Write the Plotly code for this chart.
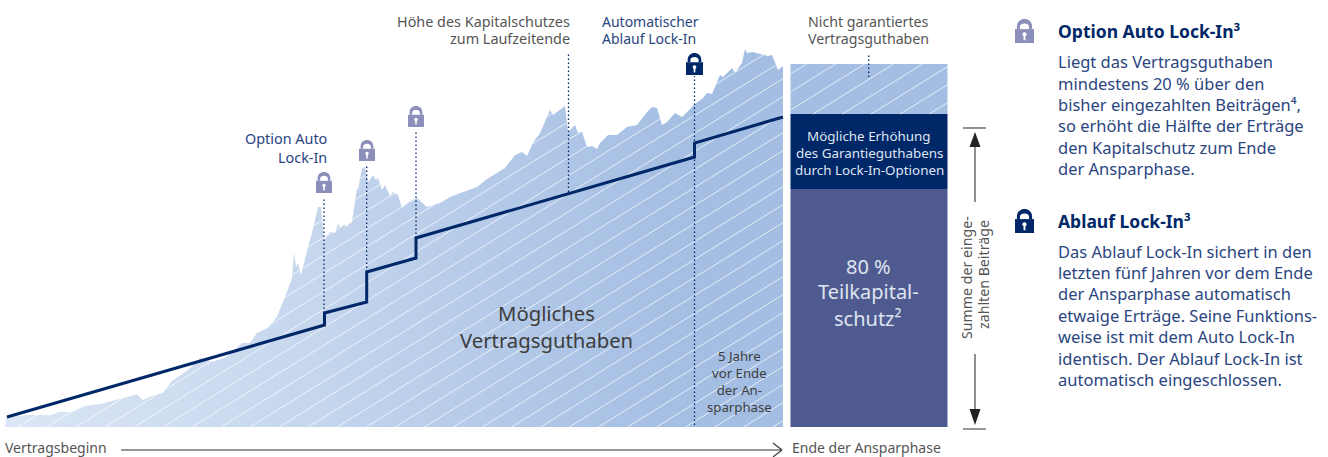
import numpy as np
import plotly.graph_objects as go

# Coordinates: x = position along the contract term, y = value (0 = baseline)
wealth_px = [(5,427),(6,418),(7,416),(17,416),(28,415),(40,415),(50,415.3),(60,411.7),(67,412),(72,412),(85,406),(100,404),(113,400.7),(127,397),(137,394.3),(143,400),(150,396.7),(163,392.7),(172,380.7),(182,374.3),(190,368),(200,358),(213,361.7),(227,356.7),(242,343),(250,343),(257,333),(268,327.7),(277,316.7),(287,292),(292,278),(294,253),(296,267),(298,263),(301,275),(308,247),(312,233),(318,207),(321,207),(324,240),(330,232),(335,233),(338,224),(341,228),(344,224),(346,227),(349,224),(352,222),(357,188),(358,190),(362,168),(365,167),(368,182),(373,175),(376,180),(378,178),(382,190),(385,185),(390,196),(393,192),(398,195),(402,208),(408,202),(417,198),(427,207),(440,203),(450,197),(463,192),(477,187),(487,179),(505,168),(515,155),(522,152),(527,156),(533,143),(540,133),(550,110),(553,115),(565,106),(568,132),(575,125),(578,133),(582,132),(587,147),(592,146),(597,149),(600,143),(608,135),(617,135),(627,127),(637,125),(647,112),(652,107),(657,108),(662,125),(667,122),(675,113),(682,117),(695,104),(703,98),(707,93),(712,94),(720,75),(723,77),(732,68),(735,73),(742,63),(745,49),(747,53),(753,52),(760,54),(768,56),(772,55),(778,70),(783,66)]
wealth_x = [p[0]-5 for p in wealth_px]
wealth_y = [427-p[1] for p in wealth_px]
guarantee_x = [2, 319.5, 319.5, 361.7, 361.7, 411, 411, 689.5, 689.5, 778]
guarantee_y = [10, 102, 114, 125, 155, 169, 189, 270, 284, 310]
bar_values = [238, 75, 50]
bar_colors = ["#4f5b90", "#002869", "#a3bde3"]
drop_x = [319, 361.7, 411, 563.5, 689.5]
drop_bottom = [102, 155, 189, 235, 2]
drop_top = [229, 261, 295, 373, 351]

NAVY = "#002869"; MID = "#2a4580"; GREY = "#555555"; LOCK = "#8c8fba"; FONT = "Noto Sans"
X0, Y0 = 5, 427
fig = go.Figure()

fig.add_trace(go.Scatter(x=wealth_x, y=wealth_y, mode="none", fill="tozeroy",
    fillgradient=dict(type="horizontal", colorscale=[[0,"#dae6f5"],[0.4,"#c5d6ed"],[0.6,"#b6cbe9"],[0.85,"#a5bfe3"],[1,"#a3bde3"]]), hoverinfo="skip"))
fig.add_trace(go.Bar(x=[864]*3, y=bar_values, width=157, marker=dict(color=bar_colors, line_width=0), hoverinfo="skip"))

# hatching clipped to the area and the light bar
SLOPE, STEP = 0.62, 18.0
hx, hy = [], []
xs = np.arange(0, 778.01, 0.5)
top = np.interp(xs, wealth_x, wealth_y)
for c in np.arange(-800, 500, STEP):
    ys = c + SLOPE*xs
    ok = (ys >= 0) & (ys <= top)
    i = 0
    while i < len(xs):
        if ok[i]:
            j = i
            while j+1 < len(xs) and ok[j+1]:
                j += 1
            hx += [xs[i], xs[j], None]; hy += [ys[i], ys[j], None]
            i = j+1
        else:
            i += 1
    xa, xb = 786.0, 943.0
    lo, hi = 313.0, 363.0
    x1 = max(xa, (lo-c)/SLOPE); x2 = min(xb, (hi-c)/SLOPE)
    if x2 > x1:
        hx += [x1, x2, None]; hy += [c+SLOPE*x1, c+SLOPE*x2, None]
fig.add_trace(go.Scatter(x=hx, y=hy, mode="lines", line=dict(color="rgba(255,255,255,0.7)", width=1), hoverinfo="skip"))

for x, a, b in zip(drop_x+[863.7], drop_bottom+[350], drop_top+[373]):
    fig.add_trace(go.Scatter(x=[x,x], y=[a,b], mode="lines", line=dict(color=NAVY, width=1.3, dash="1.5px,2.5px"), hoverinfo="skip"))
fig.add_trace(go.Scatter(x=guarantee_x, y=guarantee_y, mode="lines", line=dict(color=NAVY, width=3, shape="linear"), hoverinfo="skip"))

def txt(x, py, s, color=GREY, size=14, anchor="left", font=FONT, angle=0, bold=False):
    fig.add_annotation(x=x-X0, y=Y0-py, text=f"<b>{s}</b>" if bold else s, showarrow=False, xanchor=anchor, yanchor="middle",
        borderpad=0, borderwidth=0, align=anchor, font=dict(color=color, size=size, family=font), textangle=angle)

def lock(cx, py_top, w, h, color):
    l = cx-w/2-X0; r = cx+w/2-X0
    t = Y0-py_top; b = Y0-(py_top+h)
    mid = t-h*0.42
    so = w*0.40; si = w*0.24
    arc = t - so*1.0
    path = (f"M{cx-X0-so},{mid} L{cx-X0-so},{arc} C{cx-X0-so},{t+so*0.33} {cx-X0+so},{t+so*0.33} {cx-X0+so},{arc} L{cx-X0+so},{mid} "
            f"L{cx-X0+si},{mid} L{cx-X0+si},{arc} C{cx-X0+si},{t-so*0.45} {cx-X0-si},{t-so*0.45} {cx-X0-si},{arc} L{cx-X0-si},{mid} Z")
    fig.add_shape(type="path", path=path, fillcolor=color, line_width=0, layer="above")
    fig.add_shape(type="rect", x0=l, x1=r, y0=b, y1=mid, fillcolor=color, line_width=0, layer="above")
    ky = (mid+b)/2
    fig.add_shape(type="circle", x0=cx-X0-w*0.11, x1=cx-X0+w*0.11, y0=ky-w*0.02, y1=ky+w*0.2, fillcolor="white", line_width=0, layer="above")
    fig.add_shape(type="rect", x0=cx-X0-w*0.05, x1=cx-X0+w*0.05, y0=ky-w*0.22, y1=ky+w*0.05, fillcolor="white", line_width=0, layer="above")

for cx, pt in [(324,172),(367,140),(416,106)]:
    lock(cx, pt, 16, 21, LOCK)
lock(694.5, 53, 17, 22, NAVY)
lock(1024.5, 19, 19, 24, LOCK)
lock(1024.5, 209, 19, 24, NAVY)

for py, s in [(21,"Höhe des Kapitalschutzes"),(38,"zum Laufzeitende")]:
    txt(570, py, s, size=14.4, anchor="right")
for py, s in [(21,"Automatischer"),(38,"Ablauf Lock-In")]:
    txt(602, py, s, color=MID, size=14)
for py, s in [(21,"Nicht garantiertes"),(38,"Vertragsguthaben")]:
    txt(868, py, s, size=14.2, anchor="center")
for py, s in [(138,"Option Auto"),(157,"Lock-In")]:
    txt(327, py, s, color=MID, size=14.4, anchor="right")
for py, s in [(313,"Mögliches"),(340,"Vertragsguthaben")]:
    txt(546, py, s, size=20.3, color="#3d3d3d", anchor="center")
txt(739, 381, "5 Jahre<br>vor Ende<br>der An-<br>sparphase", size=13.2, color="#3d3d3d", anchor="center")
for py, s in [(136,"Mögliche Erhöhung"),(153,"des Garantieguthabens"),(170,"durch Lock-In-Optionen")]:
    txt(869, py, s, size=13.4, color="#dfe5f1", anchor="center")
for py, s in [(266,"80 %"),(291,"Teilkapital-"),(318,"schutz²")]:
    txt(868, py, s, size=20, color="#dfe5f1", anchor="center")
txt(966, 278, "Summe der einge-", size=14.2, anchor="center", angle=-90)
txt(983, 275, "zahlten Beiträge", size=14.2, anchor="center", angle=-90)
txt(5, 447.5, "Vertragsbeginn", size=14)
txt(792, 447.5, "Ende der Ansparphase", size=14)

txt(1058, 31, "Option Auto Lock-In³", color=NAVY, size=17.5, bold=True)
for py, s in zip([61,83,104,125,147,168],["Liegt das Vertragsguthaben","mindestens 20 % über den","bisher eingezahlten Beiträgen⁴,","so erhöht die Hälfte der Erträge","den Kapitalschutz zum Ende","der Ansparphase."]):
    txt(1058, py, s, color=MID, size=16.5)
txt(1058, 221, "Ablauf Lock-In³", color=NAVY, size=17.5, bold=True)
for py, s in zip([251,272,293,315,336,358,379],["Das Ablauf Lock-In sichert in den","letzten fünf Jahren vor dem Ende","der Ansparphase automatisch","etwaige Erträge. Seine Funktions-","weise ist mit dem Auto Lock-In","identisch. Der Ablauf Lock-In ist","automatisch eingeschlossen."]):
    txt(1058, py, s, color=MID, size=16.5)

def seg(x0, py0, x1, py1, color="#333333", w=1.1):
    fig.add_shape(type="line", x0=x0-X0, x1=x1-X0, y0=Y0-py0, y1=Y0-py1, line=dict(color=color, width=w), layer="above")
seg(121, 450, 782, 450)
seg(773, 443, 782, 450); seg(773, 457, 782, 450)
seg(963, 128, 986, 128); seg(963, 429, 986, 429, color="#777777", w=1.5)
seg(975, 140, 975, 202); seg(975, 354, 975, 412)
for tip, base in [(132,147),(425,409)]:
    fig.add_shape(type="path", path=f"M{975-X0},{Y0-tip} L{969.5-X0},{Y0-base} L{980.5-X0},{Y0-base} Z", fillcolor="#222222", line_width=0, layer="above")

fig.update_layout(width=1328, height=457, margin=dict(l=0,r=0,t=0,b=0), showlegend=False, barmode="stack",
    paper_bgcolor="white", plot_bgcolor="white", hovermode=False,
    xaxis=dict(range=[-5,1323], visible=False, fixedrange=True),
    yaxis=dict(range=[-30,427], visible=False, fixedrange=True))
fig.write_html("out.html", config=dict(displayModeBar=False), default_width="1328px", default_height="457px",
    post_script="document.body.style.margin='0';document.documentElement.style.overflow='hidden';")
